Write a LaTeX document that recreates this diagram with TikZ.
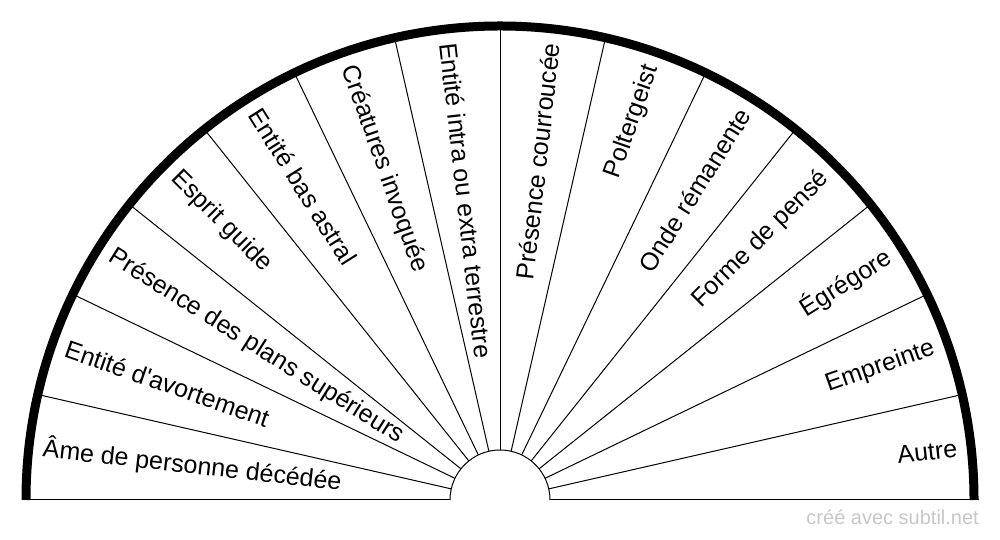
\documentclass[tikz,border=0pt]{standalone}
\usepackage{fontspec}
\setmainfont{Liberation Sans}[Ligatures=TeXOff]
\begin{document}
\begin{tikzpicture}[x=1pt,y=1pt,
  spoke/.style={line width=1pt, black},
  rim/.style={line width=9pt, black},
  lbl/.style={font=\fontsize{25}{30}\selectfont, inner sep=0pt},
  credit/.style={font=\fontsize{20}{24}\selectfont, text=black!22, inner sep=0pt}]
\useasboundingbox (0,0) rectangle (1000,540);
\coordinate (O) at (500,40);
% spokes
\foreach \k in {1,...,13}{
  \pgfmathsetmacro{\a}{\k*180/14}
  \draw[spoke] ([shift={(\a:50)}]O) -- ([shift={(\a:474)}]O);
}
\draw[spoke] ([shift={(0:50)}]O) -- ([shift={(0:478.5)}]O);
\draw[spoke] ([shift={(180:50)}]O) -- ([shift={(180:478.5)}]O);
% inner arc
\draw[spoke] ([shift={(0:50)}]O) arc[start angle=0,end angle=180,radius=50];
% outer rim
\draw[rim] ([shift={(0:474)}]O) arc[start angle=0,end angle=180,radius=474];
% left labels
\foreach \i/\t in {0/{Âme de personne décédée},1/{Entité d'avortement},2/{Présence des plans supérieurs},3/{Esprit guide},4/{Entité bas astral},5/{Créatures invoquée},6/{Entité intra ou extra terrestre}}{
  \pgfmathsetmacro{\a}{180-(\i+0.5)*180/14}
  \node[lbl, anchor=west, rotate=\a-180] (l\i) at ([shift={(\a:460)}]O) {\t};
}
% right labels
\foreach \i/\t in {7/{Présence courroucée},8/{Poltergeist},9/{Onde rémanente},10/{Forme de pensé},11/{Égrégore},12/{Empreinte},13/{Autre}}{
  \pgfmathsetmacro{\a}{180-(\i+0.5)*180/14}
  \node[lbl, anchor=east, rotate=\a] (l\i) at ([shift={(\a:460)}]O) {\t};
}
\node[credit, anchor=base east] (credit) at (979,15) {créé avec subtil.net};
\end{tikzpicture}
\end{document}
